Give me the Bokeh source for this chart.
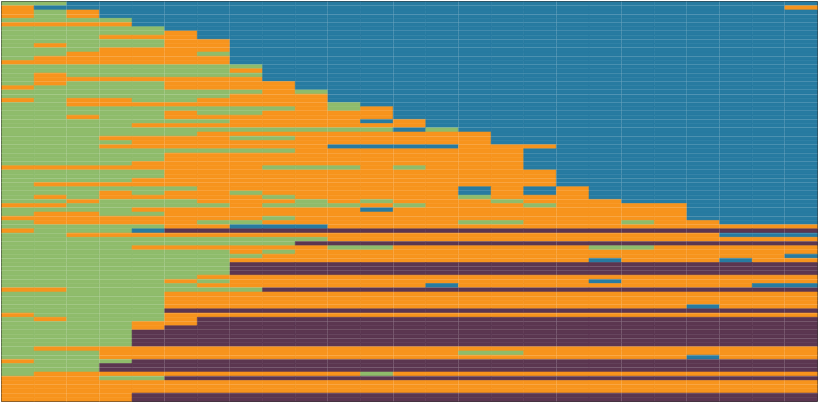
from bokeh.plotting import figure
from bokeh.models import ColumnDataSource, Range1d, FixedTicker
from bokeh.embed import file_html
from bokeh.resources import INLINE

# Each row: 25 periods, one state per period
# G = green, O = orange, B = blue, P = purple
rows = [
    "GG" + "B" * 23,
    "O" + "B" * 23 + "O",
    "OGO" + "B" * 22,
    "OGO" + "B" * 22,
    "GGGG" + "B" * 21,
    "OOOO" + "B" * 21,
    "GGGGG" + "B" * 20,
    "GGGGGO" + "B" * 19,
    "GGGOOO" + "B" * 19,
    "GGGGGOO" + "B" * 18,
    "GOGGGOO" + "B" * 18,
    "GGGOOOO" + "B" * 18,
    "GGOOOOG" + "B" * 18,
    "GOOOOOO" + "B" * 18,
    "OOOOOOO" + "B" * 18,
    "GGGGGGGG" + "B" * 17,
    "GGGGGGGO" + "B" * 17,
    "GOGGGGGG" + "B" * 17,
    "GOOOOOOO" + "B" * 17,
    "GOGGGOOOO" + "B" * 16,
    "OGGGGOOOO" + "B" * 16,
    "GGGGGGGGOG" + "B" * 15,
    "GGGGGGGOOO" + "B" * 15,
    "OGOOGGOOOO" + "B" * 15,
    "GGOOOOOOOOG" + "B" * 14,
    "GGGGGGGGGOGO" + "B" * 13,
    "GGGGGOGGOOOO" + "B" * 13,
    "GGOGGOOOOOOO" + "B" * 13,
    "GGGGGGGOOOOBO" + "B" * 12,
    "GGGGOOOOOOOOO" + "B" * 12,
    "GGGGGGGGGGGGBG" + "B" * 11,
    "GGGGGG" + "O" * 9 + "B" * 10,
    "GGGOOOOGG" + "O" * 6 + "B" * 10,
    "GGGG" + "O" * 11 + "B" * 10,
    "GGG" + "O" * 7 + "BBBB" + "OOO" + "B" * 8,
    "G" * 9 + "O" * 7 + "B" * 9,
    "GGGGG" + "O" * 11 + "B" * 9,
    "GGGGG" + "O" * 11 + "B" * 9,
    "GGGG" + "O" * 12 + "B" * 9,
    "O" * 8 + "GGG" + "O" + "G" + "OOO" + "B" * 9,
    "GGGGG" + "O" * 12 + "B" * 8,
    "GGGGG" + "O" * 12 + "B" * 8,
    "GGGG" + "O" * 13 + "B" * 8,
    "G" + "O" * 16 + "B" * 8,
    "GGGGGG" + "O" * 8 + "B" + "O" + "B" + "O" + "B" * 7,
    "GGGOGOOGO" + "OOOOO" + "B" + "O" + "B" + "O" + "B" * 7,
    "GOGOOOOOG" + "OOOOO" + "G" + "OO" + "O" + "B" * 7,
    "GGOGGGOOO" + "G" + "O" + "G" + "OOO" + "G" + "O" + "OO" + "B" * 6,
    "OOGGGGGOG" + "GG" + "O" + "G" + "OOO" + "G" + "OO" + "OO" + "B" * 4,
    "GGGG" + "O" * 7 + "B" + "O" * 9 + "B" * 4,
    "GOOGGOOOO" + "O" * 12 + "B" * 4,
    "OOOOOOOOG" + "O" * 12 + "B" * 4,
    "GOOOOOGGO" + "OOOOO" + "GG" + "OOO" + "G" + "OO" + "BBB",
    "GGGGGOOBBB" + "O" * 15,
    "OGGGB" + "P" * 20,
    "GG" + "O" * 20 + "BBB",
    "G" * 10 + "O" * 15,
    "G" * 9 + "P" * 16,
    "GGGG" + "O" * 6 + "GG" + "O" * 6 + "GG" + "O" * 5,
    "GGGGGGGOG" + "O" * 16,
    "G" * 8 + "O" * 16 + "B",
    "GGGGGGGOO" + "O" * 9 + "B" + "OOO" + "B" + "OO",
    "G" * 7 + "P" * 18,
    "G" * 7 + "P" * 18,
    "G" * 7 + "P" * 18,
    "GGGGGG" + "O" * 19,
    "GGGGGOG" + "O" * 11 + "B" + "O" * 6,
    "GGGGGG" + "O" * 7 + "B" + "O" * 9 + "BB",
    "OO" + "G" * 6 + "P" * 17,
    "GGGGG" + "O" * 20,
    "GGGGG" + "O" * 20,
    "GGGGG" + "O" * 20,
    "GGGGG" + "O" * 16 + "B" + "OOO",
    "GGGGG" + "P" * 20,
    "OGGGG" + "O" * 20,
    "GOGGGO" + "P" * 19,
    "GGGGOO" + "P" * 19,
    "GGGGO" + "P" * 20,
    "GGGG" + "P" * 21,
    "GGGG" + "P" * 21,
    "GGGG" + "P" * 21,
    "GGGG" + "P" * 21,
    "G" + "O" * 24,
    "GGG" + "O" * 11 + "GG" + "O" * 9,
    "GGG" + "O" * 18 + "B" + "OOO",
    "OGGG" + "P" * 21,
    "GGG" + "P" * 22,
    "GGG" + "P" * 22,
    "G" + "O" * 10 + "G" + "O" * 13,
    "OOOGG" + "P" * 20,
    "O" * 25,
    "O" * 25,
    "O" * 25,
    "OOOO" + "P" * 21,
    "OOOO" + "P" * 21,
]

state_colors = {
    "G": "#8fbc6b",
    "O": "#f7941d",
    "B": "#277ba1",
    "P": "#5b3650",
}

# faint guide lines seen over the cells
guide_cols = [2, 3, 5, 7, 10, 12, 14, 17, 19, 21, 22, 24]
guide_rows = [1, 3, 5, 7, 9, 11, 13, 15, 17, 19, 21, 22, 24, 26, 28, 30, 32, 34,
              36, 38, 40, 42, 43, 45, 47, 49, 51, 53, 55, 57, 59, 61, 63, 64, 66,
              68, 70, 72, 74, 76, 78, 80, 82, 84, 85, 87, 89, 91, 93]

n_rows = len(rows)
n_cols = len(rows[0])

left, right, top, bottom, color = [], [], [], [], []
for r, s in enumerate(rows):
    for c, ch in enumerate(s):
        left.append(c)
        right.append(c + 1)
        top.append(r)
        bottom.append(r + 1)
        color.append(state_colors[ch])

src = ColumnDataSource(dict(left=left, right=right, top=top, bottom=bottom, color=color))

p = figure(width=818, height=402, output_backend="svg", toolbar_location=None,
           x_range=Range1d(0, n_cols), y_range=Range1d(n_rows, 0),
           x_axis_location=None, y_axis_location=None,
           min_border=1, background_fill_color="white")
p.quad(left="left", right="right", top="top", bottom="bottom", source=src,
       fill_color="color", line_color="color", line_width=0.6)

p.xgrid.ticker = FixedTicker(ticks=guide_cols)
p.ygrid.ticker = FixedTicker(ticks=guide_rows)
for g in (p.xgrid[0], p.ygrid[0]):
    g.level = "overlay"
    g.grid_line_color = "white"
    g.grid_line_alpha = 0.13
    g.grid_line_width = 1

p.outline_line_color = "#333333"
p.outline_line_width = 1

open("out.html", "w").write(file_html(p, INLINE))
